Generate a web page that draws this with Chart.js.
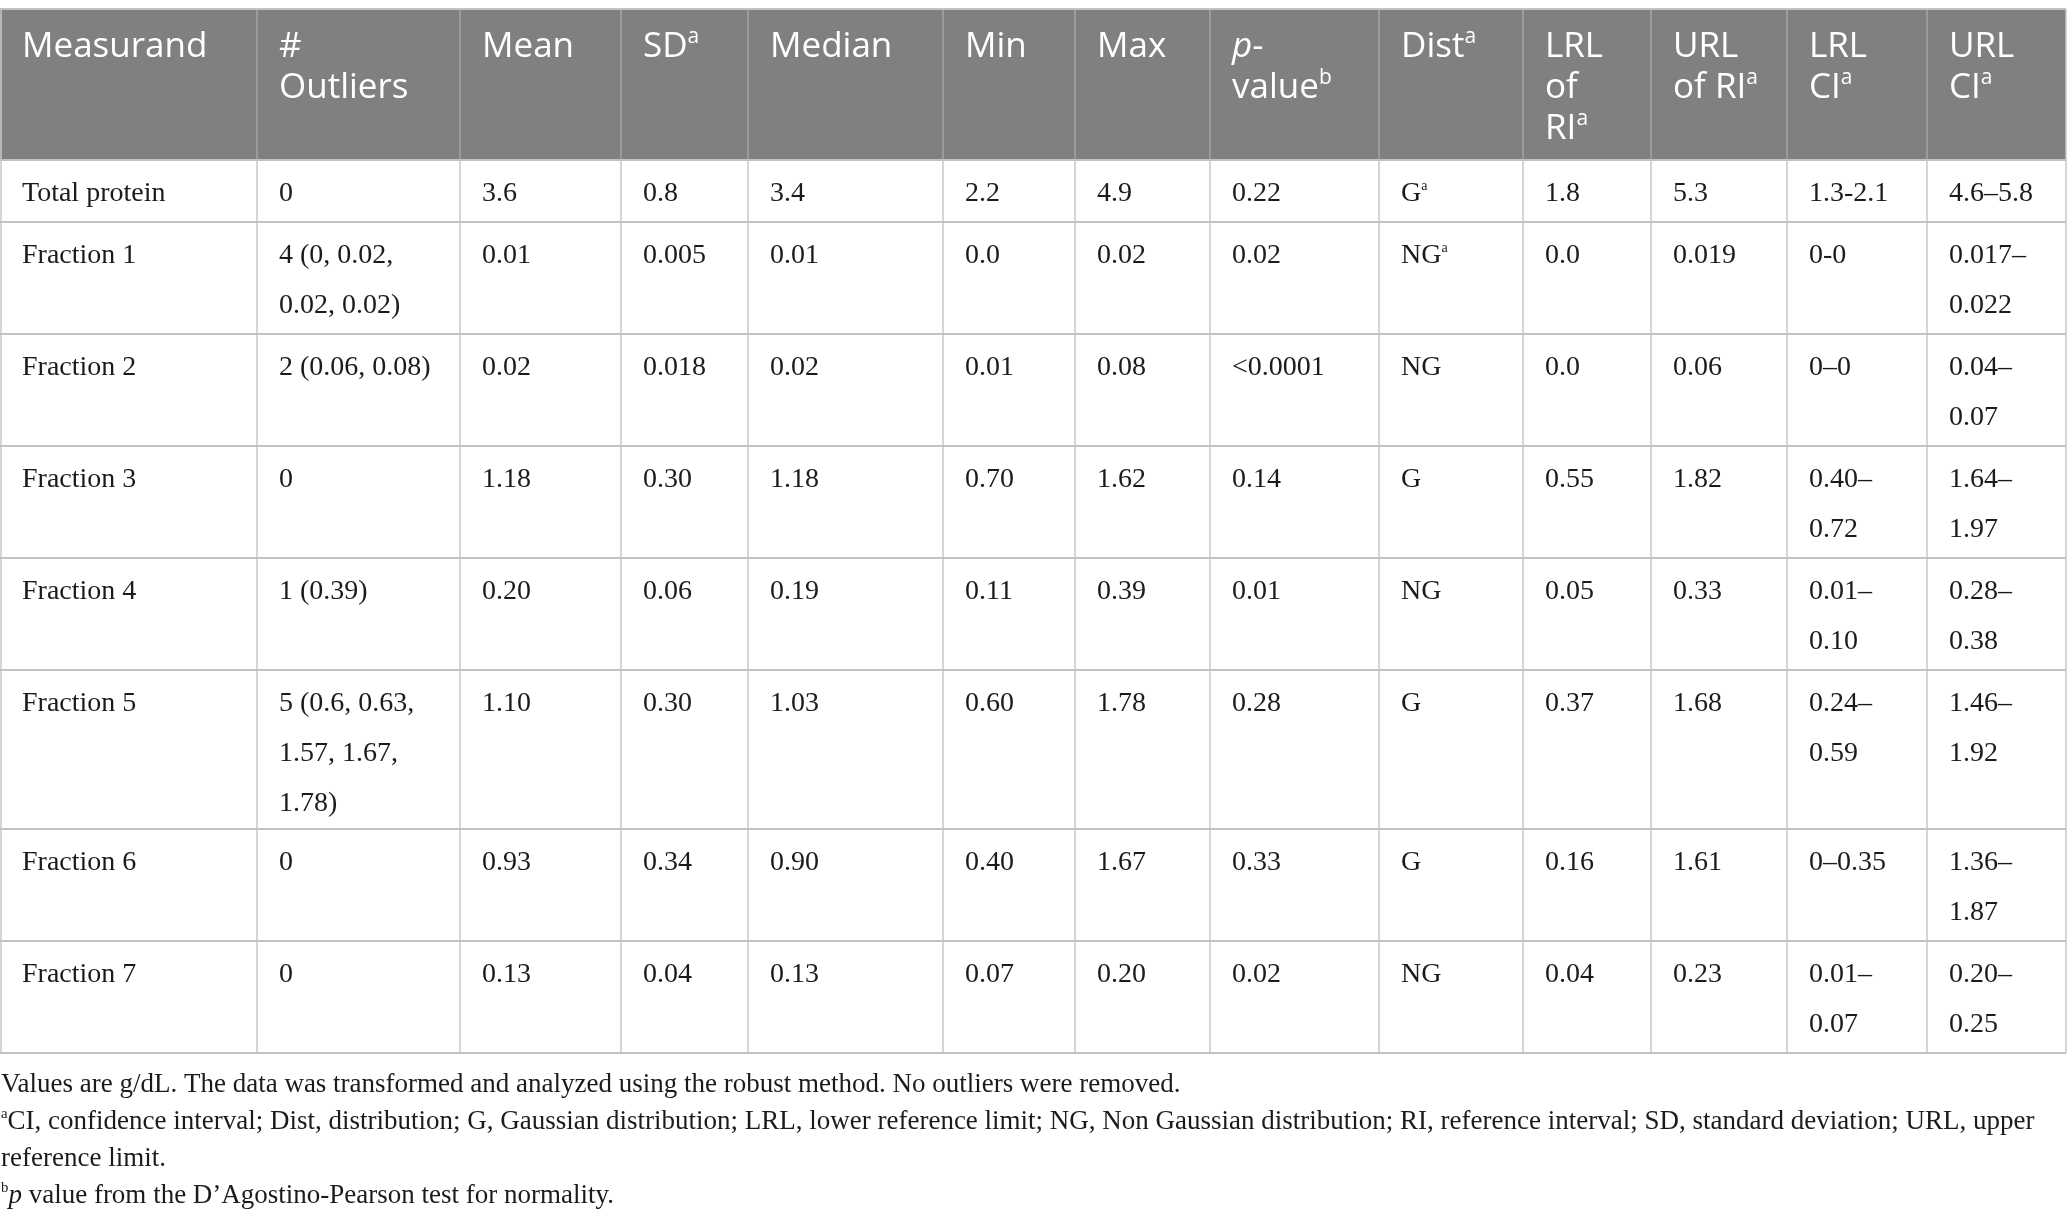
<!DOCTYPE html>
<html>
<head>
<meta charset="utf-8">
<script src="https://cdn.jsdelivr.net/npm/chart.js@4.4.1/dist/chart.umd.min.js"></script>
<style>
  html, body { margin: 0; padding: 0; background: #fff; }
  #wrap { width: 2068px; height: 1220px; }
</style>
</head>
<body>
<div id="wrap"><canvas id="tbl"></canvas></div>
<script>
// header cells: \n = line break, ^x = superscript, _x_ = italic
const headers = ['Measurand', '#\nOutliers', 'Mean', 'SD^a', 'Median', 'Min', 'Max',
  '_p_-\nvalue^b', 'Dist^a', 'LRL\nof\nRI^a', 'URL\nof RI^a', 'LRL\nCI^a', 'URL\nCI^a'];

const measurands = ['Total protein', 'Fraction 1', 'Fraction 2', 'Fraction 3',
  'Fraction 4', 'Fraction 5', 'Fraction 6', 'Fraction 7'];
const outliers = ['0', '4 (0, 0.02, 0.02, 0.02)', '2 (0.06, 0.08)', '0', '1 (0.39)',
  '5 (0.6, 0.63, 1.57, 1.67, 1.78)', '0', '0'];
const means = ['3.6', '0.01', '0.02', '1.18', '0.20', '1.10', '0.93', '0.13'];
const sds = ['0.8', '0.005', '0.018', '0.30', '0.06', '0.30', '0.34', '0.04'];
const medians = ['3.4', '0.01', '0.02', '1.18', '0.19', '1.03', '0.90', '0.13'];
const mins = ['2.2', '0.0', '0.01', '0.70', '0.11', '0.60', '0.40', '0.07'];
const maxs = ['4.9', '0.02', '0.08', '1.62', '0.39', '1.78', '1.67', '0.20'];
const pValues = ['0.22', '0.02', '<0.0001', '0.14', '0.01', '0.28', '0.33', '0.02'];
const dists = ['G^a', 'NG^a', 'NG', 'G', 'NG', 'G', 'G', 'NG'];
const lrlRI = ['1.8', '0.0', '0.0', '0.55', '0.05', '0.37', '0.16', '0.04'];
const urlRI = ['5.3', '0.019', '0.06', '1.82', '0.33', '1.68', '1.61', '0.23'];
const lrlCI = ['1.3-2.1', '0-0', '0–0', '0.40–0.72', '0.01–0.10', '0.24–0.59', '0–0.35', '0.01–0.07'];
const urlCI = ['4.6–5.8', '0.017–0.022', '0.04–0.07', '1.64–1.97', '0.28–0.38', '1.46–1.92', '1.36–1.87', '0.20–0.25'];

const footnotes = [
  'Values are g/dL. The data was transformed and analyzed using the robust method. No outliers were removed.',
  '^aCI, confidence interval; Dist, distribution; G, Gaussian distribution; LRL, lower reference limit; NG, Non Gaussian distribution; RI, reference interval; SD, standard deviation; URL, upper\nreference limit.',
  '^b_p_ value from the D’Agostino-Pearson test for normality.'
];

const columns = [measurands, outliers, means, sds, medians, mins, maxs,
  pValues, dists, lrlRI, urlRI, lrlCI, urlCI];

// layout (scale units)
const colEdges = [0, 257, 460, 621, 748, 943, 1075, 1210, 1379, 1523, 1651, 1787, 1927, 2066];
const headTop = 9, headBottom = 160;
const PAD = 22;
const SANS = '"Open Sans", sans-serif', SERIF = '"Liberation Serif", serif';
const HEAD_SIZE = 35, BODY_SIZE = 28, NOTE_SIZE = 27;

function parseRuns(str) {
  const runs = [];
  const re = /\^(\w)|_(\w+)_|([^^_]+)/g;
  let m;
  while ((m = re.exec(str))) {
    if (m[1]) runs.push({ t: m[1], sup: true });
    else if (m[2]) runs.push({ t: m[2], it: true });
    else runs.push({ t: m[3] });
  }
  return runs;
}

function runFont(r, fam, size, supScale) {
  if (r.sup) return (size * supScale) + 'px ' + fam;
  return (r.it ? 'italic ' : '') + size + 'px ' + fam;
}

function measureRich(ctx, str, fam, size, supScale) {
  let w = 0;
  parseRuns(str).forEach(r => {
    ctx.font = runFont(r, fam, size, supScale);
    w += ctx.measureText(r.t).width;
  });
  return w;
}

function drawRich(ctx, str, x, y, fam, size, supScale, color) {
  ctx.fillStyle = color;
  ctx.textBaseline = 'alphabetic';
  ctx.textAlign = 'left';
  parseRuns(str).forEach(r => {
    ctx.font = runFont(r, fam, size, supScale);
    ctx.fillText(r.t, x, r.sup ? y - size * 0.4 : y);
    x += ctx.measureText(r.t).width;
  });
}

function wrapText(ctx, str, maxW, fam, size) {
  const parts = str.split(/(?<=[ –])/);
  const lines = [];
  let cur = '';
  parts.forEach(p => {
    const test = cur + p;
    if (cur && measureRich(ctx, test.trimEnd(), fam, size, 0.5) > maxW) {
      lines.push(cur.trimEnd());
      cur = p;
    } else cur = test;
  });
  if (cur) lines.push(cur.trimEnd());
  return lines;
}

// row height from the number of text lines in its tallest cell
const rowHeight = n => 12 + 50 * n - 3 * Math.max(0, n - 2);

const tablePlugin = {
  id: 'tablePlugin',
  afterDraw(chart) {
    const ctx = chart.ctx;
    const xs = chart.scales.x, ys = chart.scales.y;
    const X = v => xs.getPixelForValue(v);
    const Y = v => ys.getPixelForValue(v);
    const nCols = columns.length;
    const nRows = measurands.length;

    // wrap body cells, work out row heights
    const cells = [];
    const rowEdges = [headBottom];
    for (let r = 0; r < nRows; r++) {
      const row = [];
      let maxLines = 1;
      for (let c = 0; c < nCols; c++) {
        const w = colEdges[c + 1] - colEdges[c] - 2 * PAD;
        const lines = wrapText(ctx, columns[c][r], w, SERIF, BODY_SIZE);
        row.push(lines);
        maxLines = Math.max(maxLines, lines.length);
      }
      cells.push(row);
      rowEdges.push(rowEdges[r] + rowHeight(maxLines));
    }
    const tableBottom = rowEdges[nRows];

    ctx.save();
    // header background
    ctx.fillStyle = '#7f807f';
    ctx.fillRect(X(colEdges[0]), Y(headTop), X(colEdges[nCols]) - X(colEdges[0]), Y(headBottom) - Y(headTop));

    // header separators
    ctx.strokeStyle = '#a4a5a4';
    ctx.lineWidth = 1.5;
    for (let c = 1; c < nCols; c++) {
      ctx.beginPath();
      ctx.moveTo(X(colEdges[c]), Y(headTop));
      ctx.lineTo(X(colEdges[c]), Y(headBottom));
      ctx.stroke();
    }

    // body vertical lines
    ctx.strokeStyle = '#c9c9c9';
    ctx.lineWidth = 1.5;
    for (let c = 0; c <= nCols; c++) {
      const x = c === 0 ? X(colEdges[0]) + 1 : X(colEdges[c]);
      ctx.beginPath();
      ctx.moveTo(x, c === 0 || c === nCols ? Y(headTop) : Y(headBottom));
      ctx.lineTo(x, Y(tableBottom));
      ctx.stroke();
    }

    // horizontal rules
    ctx.strokeStyle = '#c2c2c2';
    ctx.lineWidth = 2;
    [headTop].concat(rowEdges).forEach(v => {
      ctx.beginPath();
      ctx.moveTo(X(colEdges[0]), Y(v));
      ctx.lineTo(X(colEdges[nCols]), Y(v));
      ctx.stroke();
    });

    // header text
    headers.forEach((h, c) => {
      h.split('\n').forEach((line, i) => {
        drawRich(ctx, line, X(colEdges[c] + PAD), Y(headTop + 48 + 41 * i), SANS, HEAD_SIZE, 0.6, '#ffffff');
      });
    });

    // body text
    for (let r = 0; r < nRows; r++) {
      for (let c = 0; c < nCols; c++) {
        cells[r][c].forEach((line, i) => {
          drawRich(ctx, line, X(colEdges[c] + PAD), Y(rowEdges[r] + 41 + 50 * i), SERIF, BODY_SIZE, 0.5, '#1e1a1b');
        });
      }
    }

    // footnotes
    let ln = 0;
    footnotes.forEach(f => {
      f.split('\n').forEach(line => {
        drawRich(ctx, line, X(1), Y(tableBottom + 39 + 37 * ln), SERIF, NOTE_SIZE, 0.55, '#1e1a1b');
        ln++;
      });
    });
    ctx.restore();
  }
};

new Chart(document.getElementById('tbl'), {
  type: 'scatter',
  data: { datasets: [{ data: [] }] },
  options: {
    responsive: true,
    maintainAspectRatio: false,
    animation: false,
    layout: { padding: 0 },
    scales: {
      x: { type: 'linear', min: 0, max: 2068, display: false },
      y: { type: 'linear', min: 0, max: 1220, reverse: true, display: false }
    },
    plugins: { legend: { display: false }, tooltip: { enabled: false } }
  },
  plugins: [tablePlugin]
});
</script>
</body>
</html>
